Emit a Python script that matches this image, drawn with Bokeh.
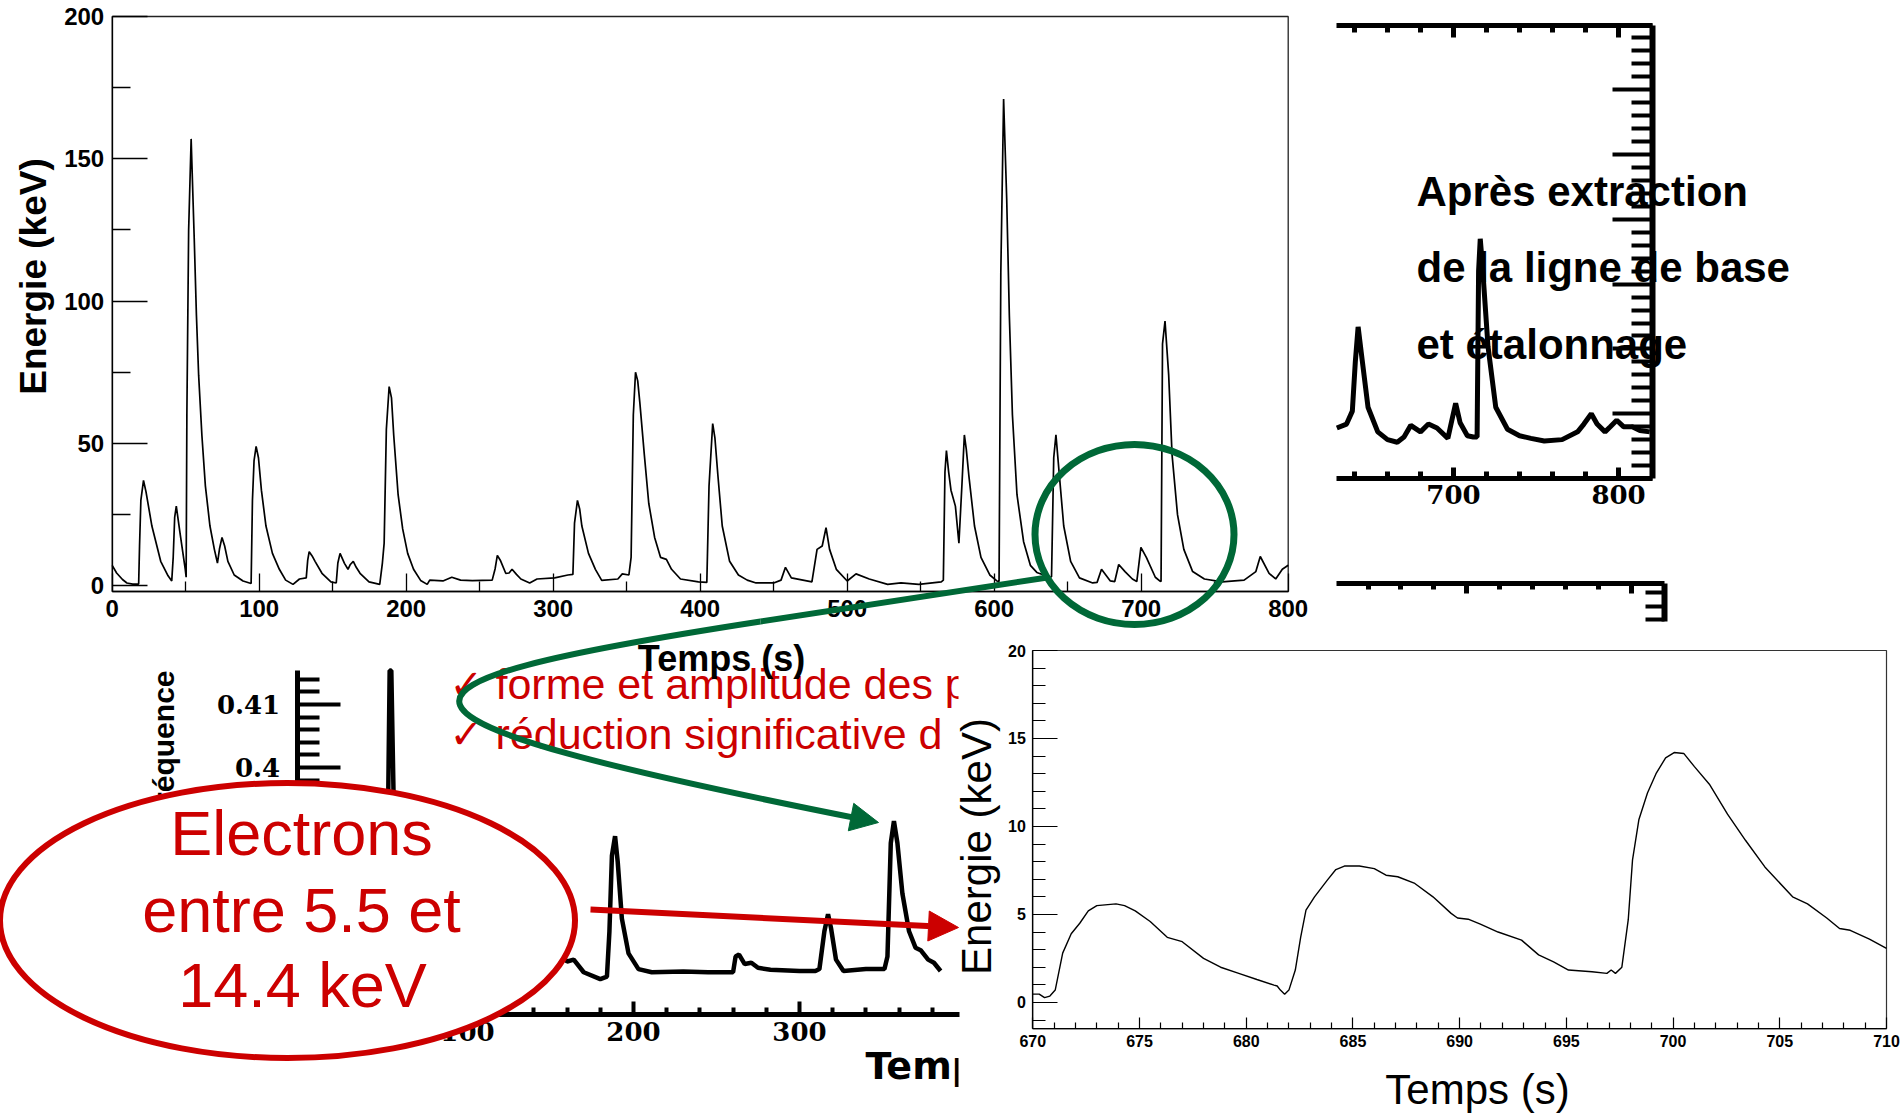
import math
from bokeh.plotting import figure
from bokeh.models import Range1d, LinearAxis, FixedTicker, Arrow, NormalHead
from bokeh.core.properties import value
from bokeh.embed import file_html
from bokeh.resources import INLINE

# ---------------- data ----------------
# main trace: energy (keV) vs time (s), after baseline extraction
main_t = [0, 3, 7, 10, 14, 18, 18.6, 19.5, 21.3, 23, 27, 33, 38, 40.5, 41.5, 42.5, 43.6, 46, 49.7, 50.3,
          50.8, 52, 53.7, 55.8, 57.3, 58.8, 61, 63.4, 66.5, 69.5, 71.6, 73, 74.7, 76.5, 78.7, 83, 89, 94.5,
          95.4, 96.5, 97.9, 99.5, 101.5, 104.6, 109, 113.7, 118, 123, 127.4, 132, 133, 134, 136, 138, 142.7,
          148.8, 152.4, 153.5, 155, 158, 160.4, 162, 164, 166, 168.6, 174.7, 182,
          183.8, 185, 186.5, 188.4, 190, 191.5, 194.5, 197.6, 201, 205, 209.8, 214.3, 216, 225, 231, 237, 245,
          258.5, 260.5, 262, 264, 267.7, 270, 272, 275, 278, 284, 289, 301, 310,
          313.4, 314.5, 316.5, 318, 319.5, 324, 328.7, 333, 344, 347, 351.5, 353, 354.5, 356, 357.5, 359, 362,
          365, 369, 373, 377, 380.5, 386.6, 398.8,
          404.5, 406, 408.5, 410, 412, 415, 420, 426, 432, 438, 450, 455, 458, 462, 476, 479.5, 483, 485.6, 488,
          492.6, 500, 506, 515, 527.5, 536.6, 548.7, 564,
          565.4, 566.5, 567.5, 569, 570.6, 573.6, 576, 578, 579.7, 581, 582.7, 586.6, 591, 597, 601.8, 603.3,
          604.5, 606.4, 608.5, 610.3, 612.4, 615.5, 620, 624.6, 629, 633.7, 638,
          639, 640.5, 642, 644.3, 647.3, 652, 658, 667, 670, 673, 679, 682, 684.7, 689, 694, 697, 699.8, 703.5,
          709.6, 712.6, 713.5, 714.5, 716.2, 718.7, 721, 724.7, 729, 735, 743, 755, 770, 778, 781, 787, 791.5,
          796, 800]
main_e = [7.2, 4.5, 2.2, 1.0, 0.6, 0.6, 14, 30, 37, 33, 21, 8.6, 3.5, 1.7, 10, 24, 28, 19, 5.8, 3,
          60, 125, 157, 122, 95, 74, 53, 35, 21, 12.8, 8, 13, 17, 14, 8.6, 3.8, 1.7, 0.8,
          30, 44, 49, 45, 33.6, 21, 11.4, 5.8, 2, 0.5, 2.4, 2.8, 9, 12, 10.5, 8.6, 4.4,
          1.4, 1.0, 8, 11.4, 7.9, 5.8, 7.5, 8.6, 6.5, 4.4, 1.4, 0.5,
          8, 15, 55, 70, 66, 53, 32, 20, 11.4, 5.8, 1.9, 0.5, 2, 1.7, 3, 2, 1.8,
          2, 6, 10.7, 9, 4.4, 4.5, 5.8, 4, 2.4, 1, 2.4, 2.8, 3.8,
          4, 22, 30, 27, 21, 11.4, 5.8, 1.9, 2.4, 4.2, 3.8, 10, 60, 75, 72, 64, 46,
          29, 17, 10, 9.3, 5.8, 2.4, 1.4,
          1.2, 35, 57, 52, 39, 21, 8.6, 3.8, 2, 1, 1, 2, 6.5, 2.8, 1.4, 12.8, 14, 20.4, 12.8,
          5.8, 1.7, 4.2, 2.4, 0.5, 1.0, 0.5, 1.4,
          2, 40, 47.5, 40, 33.6, 28, 15, 35, 53, 48, 39, 21, 10, 3.8, 1.7, 1.5,
          110, 171, 136, 95, 60, 32, 15.5, 7.2, 4.7, 3.8, 3,
          3.2, 45, 53, 39, 21, 8.6, 2.8, 1, 1.2, 5.8, 1.7, 1.5, 7.5, 5, 2.4, 1.5, 13.5, 10,
          3, 1.7, 1.5, 85, 93, 74, 46, 25, 12.8, 5, 2.4, 1.4, 2, 5, 10.3, 4.4, 2.4,
          5.8, 7.2]

# zoom 670-710 s
zoom_t = [670.0, 670.3, 670.55, 670.8, 671.05, 671.4, 671.8, 672.2, 672.6, 673.0, 673.9, 674.3, 674.8, 675.5,
          676.3, 677.0, 678.0, 678.8, 679.65, 680.5, 681.3, 681.45, 681.6, 681.8, 682.0, 682.3, 682.55, 682.8,
          683.2, 683.8, 684.2, 684.6, 685.3, 686.0, 686.55, 687.1, 687.9, 688.75, 689.6, 689.9, 690.4, 690.97,
          691.8, 692.9, 693.7, 694.4, 695.1, 696.2, 696.9, 697.1, 697.3, 697.6, 697.9, 698.1, 698.4, 698.8,
          699.2, 699.65, 700.05, 700.5, 701.0, 701.7, 702.55, 703.4, 704.3, 705.6, 706.3, 707.2, 707.8, 708.3,
          709.2, 710.0]
zoom_e = [0.47, 0.47, 0.27, 0.36, 0.7, 2.8, 3.9, 4.5, 5.2, 5.5, 5.6, 5.5, 5.2, 4.6,
          3.7, 3.45, 2.5, 2.0, 1.65, 1.3, 0.98, 0.93, 0.7, 0.47, 0.7, 1.84, 3.7, 5.25,
          6.0, 6.95, 7.55, 7.75, 7.75, 7.6, 7.23, 7.14, 6.76, 6.0, 5.06, 4.8, 4.73, 4.45,
          4.0, 3.54, 2.7, 2.3, 1.84, 1.74, 1.65, 1.84, 1.65, 2.0, 4.7, 8.1, 10.4, 11.9,
          13.0, 13.9, 14.2, 14.15, 13.4, 12.4, 10.7, 9.2, 7.7, 6.0, 5.6, 4.8, 4.2, 4.1,
          3.6, 3.07]

# raw fragment (top right), arbitrary units
raw_t = [629.3, 635.2, 638.7, 640.5, 642.2, 644.6, 648.2, 654.1, 660, 665.9, 670, 674.1, 680, 684.8, 690,
         696.6, 699, 701.3, 704, 708.4, 712, 714.3, 715.2, 716.2, 717.5, 720.9, 725.6, 732.7, 740, 746.9,
         755, 765.8, 775.2, 779, 783.5, 787, 791.8, 795, 798.9, 803, 808.3, 813, 818.9]
raw_v = [3.9, 4.2, 5.2, 9.0, 11.7, 9.2, 5.5, 3.6, 3.0, 2.8, 3.2, 4.1, 3.6, 4.2, 3.9,
         3.1, 4.5, 5.8, 4.3, 3.3, 3.2, 3.2, 16.0, 18.5, 16.5, 10.2, 5.5, 3.8, 3.3, 3.1,
         2.9, 3.0, 3.6, 4.2, 5.0, 4.2, 3.6, 4.0, 4.5, 4.0, 4.0, 3.7, 3.6]

# frequency fragment (bottom left)
freq_spike_t = [46, 50, 52, 53.1, 53.6, 54.1, 55.5, 58, 62]
freq_spike_f = [0.3700, 0.3720, 0.3900, 0.4154, 0.4154, 0.4154, 0.3950, 0.3800, 0.3740]
freq_t = [153, 157, 160, 164, 170, 180, 184, 185.5, 187, 188.9, 190.5, 193, 197, 203, 211, 230, 245, 260,
          261.5, 263.6, 267, 271, 275, 282.5, 300, 309.6, 312, 315, 317.2, 319, 322, 326.5, 340, 351.2, 353,
          355, 356.9, 359, 362, 366, 369.9, 373, 377.5, 381, 385]
freq_f = [0.3686, 0.3700, 0.3692, 0.3695, 0.3675, 0.3664, 0.3668, 0.3740, 0.3860, 0.3891, 0.3850, 0.3760,
          0.3705, 0.3680, 0.3675, 0.3676, 0.3675, 0.3675, 0.3700, 0.3703, 0.3688, 0.3690, 0.3682, 0.3679,
          0.3677, 0.3677, 0.3680, 0.3740, 0.3767, 0.3745, 0.3695, 0.3677, 0.3680, 0.3680, 0.3700, 0.3880,
          0.3915, 0.3880, 0.3800, 0.3740, 0.3714, 0.3710, 0.3695, 0.3690, 0.3677]

# ticks
main_xticks = [0, 100, 200, 300, 400, 500, 600, 700, 800]
main_xminor = [50, 150, 250, 350, 450, 550, 650, 750]
main_yticks = [0, 50, 100, 150, 200]
main_yminor = [25, 75, 125, 175]
zoom_xticks = [670, 675, 680, 685, 690, 695, 700, 705, 710]
zoom_xminor = [v for v in range(671, 710) if v % 5]
zoom_yticks = [0, 5, 10, 15, 20]
zoom_yminor = [v for v in range(-1, 20) if v % 5]
raw_xticks = [700, 800]
raw_xminor = [640, 660, 680, 720, 740, 760, 780]
raw_yticks = [0, 5, 10, 15, 20, 25, 30, 35]
raw_yminor = [v for v in range(0, 35) if v % 5]
raw2_yticks = [8, 9, 10]
freq_xticks = [100, 200, 300]
freq_xminor = [v for v in range(120, 400, 20) if v % 100]
freq_yticks = [0.40, 0.41]
freq_yminor = [0.398, 0.402, 0.404, 0.406, 0.408, 0.412, 0.414]

# texts
main_xlabel = "Temps (s)"
main_ylabel = "Energie (keV)"
zoom_xlabel = "Temps (s)"
zoom_ylabel = "Energie (keV)"
freq_ylabel = "fréquence"
freq_xlabel = "Temps (s)"
note_lines = ["Après extraction", "de la ligne de base", "et étalonnage"]
check_lines = ["forme et amplitude des p", "réduction significative d"]
ellipse_lines = ["Electrons", "entre 5.5 et", "14.4 keV"]

# ---------------- layout ----------------
W, H = 1901, 1113
RED = "#cc0000"
GREEN = "#006837"
SANS = "Liberation Sans"

p = figure(width=W, height=H, x_range=Range1d(0, W), y_range=Range1d(H, 0),
           x_axis_type=None, y_axis_type=None, toolbar_location=None,
           output_backend="svg", min_border=0)
p.min_border_left = p.min_border_right = p.min_border_top = p.min_border_bottom = 0
p.outline_line_color = None
p.background_fill_color = "white"
p.border_fill_color = "white"

# panel boxes in page pixels (left, right, top, bottom) with their data extents
panels = {
    "main": ((111.7, 1287.7, 16.0, 591.0), (0, 800), (-2, 200)),
    "zoom": ((1032.3, 1886.0, 650.0, 1028.3), (670, 710), (-1.5, 20)),
    "raw": ((1336.0, 1651.7, 24.5, 478.0), (629.1, 820.4), (0, 35)),
    "raw2": ((1336.0, 1664.0, 583.0, 621.0), (620.8, 820.2), (7.85, 10.67)),
    "freq": ((296.7, 959.0, 670.0, 1014.0), (-2.6, 396.4), (0.36079, 0.4154)),
}
xr, yr = {}, {}
for name, ((L, R, T, B), (x0, x1), (y0, y1)) in panels.items():
    sx = (x1 - x0) / (R - L)
    sy = (y1 - y0) / (B - T)
    xr[name] = Range1d(x0 - L * sx, x1 + (W - R) * sx)
    yr[name] = Range1d(y0 - (H - B) * sy, y1 + T * sy)
p.extra_x_ranges = xr
p.extra_y_ranges = yr


def on(name):
    return dict(x_range_name=name, y_range_name=name)


def add_axis(side, name, loc, ticks, minor, bounds, tick_in, minor_in, lw=1.3, tw=None,
             font=SANS, size="24px", style="bold", standoff=8, labels=True, overrides=None):
    ax = LinearAxis(fixed_location=loc, ticker=FixedTicker(ticks=ticks, minor_ticks=minor),
                    bounds=bounds, **on(name))
    ax.axis_line_color = "black"
    ax.axis_line_width = lw
    ax.major_tick_in = tick_in
    ax.major_tick_out = 0
    ax.minor_tick_in = minor_in
    ax.minor_tick_out = 0
    ax.major_tick_line_width = tw or lw
    ax.minor_tick_line_width = tw or lw
    ax.major_tick_line_color = "black"
    ax.minor_tick_line_color = "black"
    ax.major_label_text_font = font
    ax.major_label_text_font_size = size
    ax.major_label_text_font_style = style
    ax.major_label_text_color = "black"
    ax.major_label_standoff = standoff
    if not labels:
        ax.major_label_overrides = {t: "" for t in ticks}
    elif overrides:
        ax.major_label_overrides = overrides
    p.add_layout(ax, side)


def txt(x, y, t, size, color="black", font=SANS, style="normal", align="left",
        baseline="alphabetic", angle=0.0, level="glyph"):
    p.text(x=x, y=y, text=t, text_font=value(font), text_font_size=size, text_font_style=style,
           text_color=color, text_align=align, text_baseline=baseline, angle=angle, level=level)


# ---- bottom-left fragment: raw frequency ----
p.line(freq_spike_t, freq_spike_f, line_color="black", line_width=4.5, **on("freq"))
p.line(freq_t, freq_f, line_color="black", line_width=4.5, **on("freq"))
add_axis("left", "freq", -2.6, freq_yticks, freq_yminor, (0.3976, 0.4154), 43, 22, lw=5, tw=4,
         font="DejaVu Serif", size="26px", standoff=17, overrides={0.4: "0.4", 0.41: "0.41"})
add_axis("below", "freq", 0.36079, freq_xticks, freq_xminor, (117.5, 396.4), 13, 7, lw=5, tw=4,
         font="DejaVu Serif", size="26px", standoff=7)
txt([163], [670], [freq_ylabel], "30px", style="bold", align="right", baseline="middle",
    angle=math.pi / 2)
txt([865], [1065], [freq_xlabel], "38px", font="DejaVu Sans", style="bold")

# ---- red bullet lines ----
txt([449, 449], [683, 733], ["✓", "✓"], "40px", color=RED, font="DejaVu Sans")
txt([495, 495], [683, 733], check_lines, "43px", color=RED)

# ---- main plot ----
p.quad(left=0, right=800, bottom=-2, top=200, fill_color=None, line_color="#222222",
       line_width=1.3, **on("main"))
p.line(main_t, main_e, line_color="black", line_width=1.7, **on("main"))
add_axis("left", "main", 0, main_yticks, main_yminor, (-2, 200), 35, 18, standoff=8)
add_axis("below", "main", -2, main_xticks, main_xminor, (0, 800), 18, 10, standoff=8)
p.quad(left=614, right=835, top=628, bottom=666, fill_color="white", line_color=None)
txt([721], [658], [main_xlabel], "36px", style="bold", align="center", baseline="middle")
txt([33], [276], [main_ylabel], "37px", style="bold", align="center", baseline="middle",
    angle=math.pi / 2)

# ---- top-right raw fragment ----
p.line(raw_t, raw_v, line_color="black", line_width=5, **on("raw"))
add_axis("above", "raw", 35, raw_xticks, raw_xminor, (629.1, 820.4), 12, 7, lw=5, tw=5, labels=False)
add_axis("right", "raw", 820.4, raw_yticks, raw_yminor, (0, 35), 40, 21, lw=6, tw=4, labels=False)
add_axis("below", "raw", 0, raw_xticks, raw_xminor, (629.1, 820.4), 11, 7, lw=5, tw=5,
         font="DejaVu Serif", size="26px", standoff=6)
add_axis("above", "raw2", 10.67, raw_xticks, raw_xminor, (620.8, 820.2), 10, 6, lw=5, tw=5,
         labels=False)
add_axis("right", "raw2", 820.2, raw2_yticks, [], (7.85, 10.67), 19, 0, lw=6, tw=4, labels=False)
txt([1416, 1416, 1416], [191, 267, 344], note_lines, "42px", style="bold")

# ---- zoom plot ----
p.quad(left=958, right=W, top=640, bottom=H, fill_color="white", line_color=None)
p.quad(left=670, right=710, bottom=-1.5, top=20, fill_color=None, line_color="#333333",
       line_width=1.2, **on("zoom"))
p.line(zoom_t, zoom_e, line_color="black", line_width=1.4, **on("zoom"))
add_axis("left", "zoom", 670, zoom_yticks, zoom_yminor, (-1.5, 20), 25, 13, lw=1.2,
         size="16px", standoff=7)
add_axis("below", "zoom", -1.5, zoom_xticks, zoom_xminor, (670, 710), 11, 6, lw=1.2,
         size="16px", standoff=6)
txt([976], [846], [zoom_ylabel], "42px", align="center", baseline="middle", angle=math.pi / 2)
txt([1477], [1089], [zoom_xlabel], "42px", align="center", baseline="middle")

# ---- red ellipse with text ----
p.ellipse(x=[287], y=[920], width=[575], height=[275], fill_color="white", line_color=RED,
          line_width=6, level="annotation")
txt([301, 301, 302], [832, 909, 984], ellipse_lines, "63px", color=RED, align="center",
    level="annotation")

# ---- green circle and curved arrow ----
p.ellipse(x=[1134], y=[534], width=[199], height=[180], fill_color=None, line_color=GREEN,
          line_width=7, level="overlay")
p.line(x=[1047, 760], y=[577, 621], line_color=GREEN, line_width=6, level="overlay")
tip = (878.0, 822.0)
d = (0.981, 0.194)
end = (tip[0] - 16 * d[0], tip[1] - 16 * d[1])
p.bezier(x0=[760], y0=[621], x1=[end[0]], y1=[end[1]], cx0=[345], cy0=[685], cx1=[340], cy1=[715],
         line_color=GREEN, line_width=6, level="overlay")
p.add_layout(Arrow(end=NormalHead(size=28, fill_color=GREEN, line_color=GREEN),
                   x_start=tip[0] - 30 * d[0], y_start=tip[1] - 30 * d[1], x_end=tip[0], y_end=tip[1],
                   line_alpha=0, level="overlay"))

# ---- red arrow ----
p.add_layout(Arrow(end=NormalHead(size=30, fill_color=RED, line_color=RED),
                   x_start=590, y_start=909, x_end=958, y_end=927,
                   line_color=RED, line_width=6, level="overlay"))

open("out.html", "w").write(file_html(p, INLINE))
